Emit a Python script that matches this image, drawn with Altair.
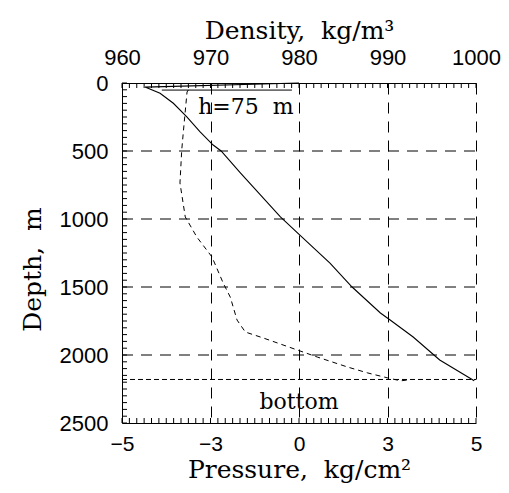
import altair as alt
import pandas as pd

# ---- data ----
density_values = [980.0, 962.6, 964.3, 965.8, 967.3, 968.8, 970.3, 971.2, 973.4,
                  977.9, 980.1, 983.5, 986.0, 989.2, 990.3, 992.9, 995.9, 999.8]
density_depths = [0, 30, 76, 149, 248, 358, 456, 500, 662,
                  985, 1118, 1324, 1500, 1691, 1743, 1868, 2037, 2190]

pressure_values = [-3.50, -3.53, -3.61, -3.65, -3.69, -3.57, -3.31, -2.95, -2.57, -2.33,
                   -2.10, -1.82, -1.21, -0.06, 0.62, 1.64, 2.33, 3.01, 3.30, 3.50]
pressure_depths = [51, 66, 346, 493, 735, 985, 1132, 1279, 1471, 1574,
                   1743, 1831, 1875, 1963, 2015, 2088, 2132, 2169, 2190, 2182]

h_line_density = [964.5, 979.2]
h_line_depth = [52, 52]

bottom_line_density = [960, 1000]
bottom_line_depth = [2180, 2180]

NB = "\u00a0"
annotation_labels = ["h=75" + NB + NB + "m", "bottom"]
annotation_density = [974.0, 980.0]
annotation_depth = [176, 2346]

density_ticks = [960, 970, 980, 990, 1000]
pressure_ticks = [-5, -3, 0, 3, 5]
depth_ticks = [0, 500, 1000, 1500, 2000, 2500]
depth_grid = [500, 1000, 1500, 2000]
minor_x_ticks = [960 + i * 10 / 12 for i in range(49)]
minor_depth_ticks = list(range(0, 2501, 50))

W, H = 354, 340
SERIF = "DejaVu Serif"
SANS = "Liberation Sans"

dens_df = pd.DataFrame({"density": density_values, "depth": density_depths,
                        "idx": range(len(density_values))})
pres_df = pd.DataFrame({"pressure": pressure_values, "depth": pressure_depths,
                        "idx": range(len(pressure_values))})
h_df = pd.DataFrame({"density": h_line_density, "depth": h_line_depth})
bot_df = pd.DataFrame({"density": bottom_line_density, "depth": bottom_line_depth})
ann_df = pd.DataFrame({"label": annotation_labels, "density": annotation_density,
                       "depth": annotation_depth})
mx_df = pd.DataFrame({"density": minor_x_ticks})
my_df = pd.DataFrame({"depth": minor_depth_ticks})
grid_df = pd.DataFrame({"depth": depth_grid})

dens_scale = alt.Scale(domain=[960, 1000], nice=False, zero=False)
depth_scale = alt.Scale(domain=[0, 2500], reverse=True, nice=False, zero=False)

x_dens = alt.X("density:Q", scale=dens_scale,
               axis=alt.Axis(orient="top", values=density_ticks, format="d",
                             grid=True, gridDash=[11, 8], gridColor="black", gridWidth=1,
                             gridOpacity=1, ticks=False, labelPadding=14, labelFlush=False,
                             title="Density," + NB + NB + "kg/m³", titlePadding=3))
y_depth = alt.Y("depth:Q", scale=depth_scale,
                axis=alt.Axis(values=depth_ticks, format="d", grid=False, ticks=False,
                              labelPadding=14, labelFlush=False,
                              title="Depth," + NB + NB + "m",
                              titlePadding=14, titleY=186))

density_line = alt.Chart(dens_df).mark_line(color="black", strokeWidth=1.1).encode(
    x=x_dens, y=y_depth, order="idx:Q")

h_line = alt.Chart(h_df).mark_line(color="black", strokeWidth=1).encode(
    x=alt.X("density:Q", scale=dens_scale), y=alt.Y("depth:Q", scale=depth_scale))

grid_h = alt.Chart(grid_df).mark_rule(color="black", strokeWidth=1, strokeDash=[11, 8]).encode(
    y=alt.Y("depth:Q", scale=depth_scale), x=alt.value(0), x2=alt.value(W))

bottom_line = alt.Chart(bot_df).mark_line(color="black", strokeWidth=1, strokeDash=[5, 3]).encode(
    x=alt.X("density:Q", scale=dens_scale), y=alt.Y("depth:Q", scale=depth_scale))

ann = alt.Chart(ann_df).mark_text(font=SERIF, fontSize=22, color="black",
                                  align="center", baseline="middle").encode(
    x=alt.X("density:Q", scale=dens_scale), y=alt.Y("depth:Q", scale=depth_scale),
    text="label:N")

top_ticks = alt.Chart(mx_df).mark_rule(color="black", strokeWidth=1).encode(
    x=alt.X("density:Q", scale=dens_scale), y=alt.value(0), y2=alt.value(5))
bot_ticks = alt.Chart(mx_df).mark_rule(color="black", strokeWidth=1).encode(
    x=alt.X("density:Q", scale=dens_scale), y=alt.value(H - 5), y2=alt.value(H))
left_ticks = alt.Chart(my_df).mark_rule(color="black", strokeWidth=1).encode(
    y=alt.Y("depth:Q", scale=depth_scale), x=alt.value(0), x2=alt.value(5))

density_group = alt.layer(grid_h, bottom_line, h_line, density_line, ann,
                          top_ticks, bot_ticks, left_ticks)

pressure_line = alt.Chart(pres_df).mark_line(color="black", strokeWidth=1,
                                             strokeDash=[5, 4]).encode(
    x=alt.X("pressure:Q",
            scale=alt.Scale(domain=pressure_ticks, range=[0, W / 4, W / 2, 3 * W / 4, W],
                            nice=False, zero=False),
            axis=alt.Axis(orient="bottom", values=pressure_ticks, format="d", grid=False,
                          ticks=False, labelPadding=10, labelFlush=False, labelFontSize=21,
                          title="Pressure," + NB + NB + "kg/cm²", titlePadding=3)),
    y=alt.Y("depth:Q", scale=depth_scale),
    order="idx:Q")

chart = alt.layer(density_group, pressure_line).resolve_scale(
    x="independent").properties(
    width=W, height=H,
    autosize=alt.AutoSizeParams(type="none"),
    padding={"left": 114, "top": 75, "right": 25, "bottom": 68},
).configure_view(stroke=None).configure_axis(
    domainColor="black", domainWidth=1,
    labelFont=SANS, labelFontSize=22, labelColor="black",
    titleFont=SERIF, titleFontSize=25, titleFontWeight="normal", titleColor="black",
)

chart.save("out.html", embed_options={"renderer": "svg", "actions": False})
